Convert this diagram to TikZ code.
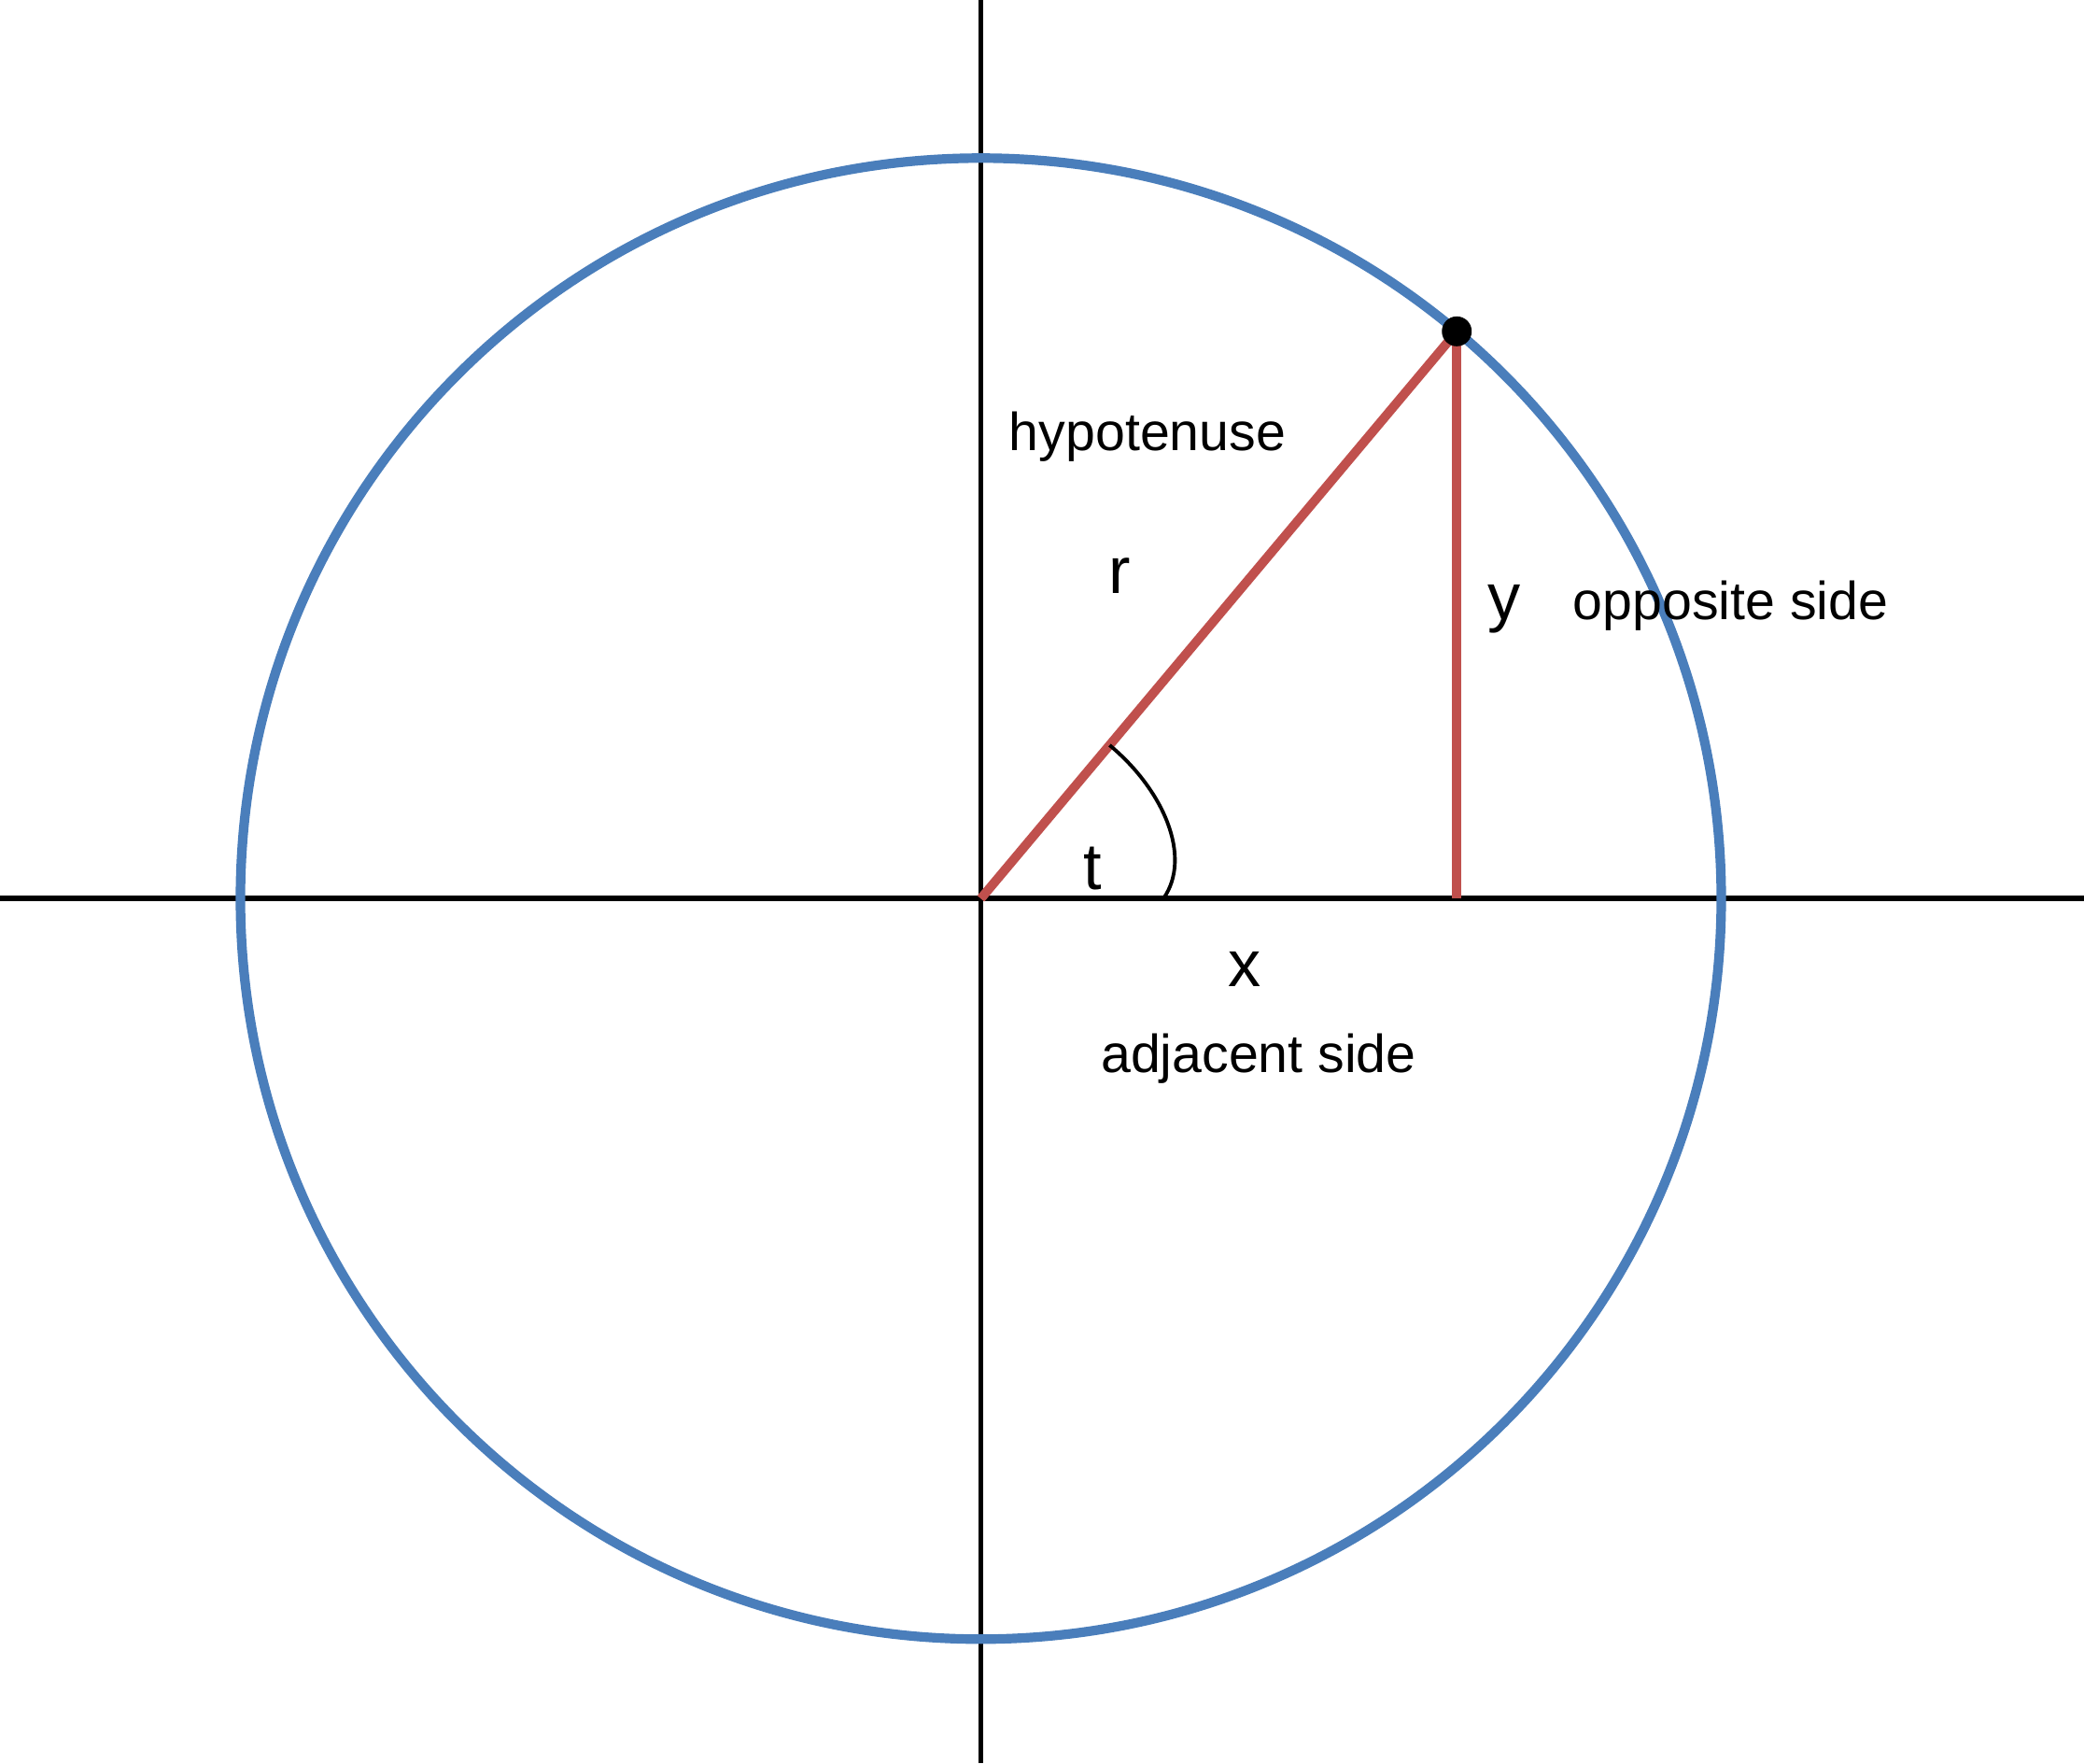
\documentclass[tikz,border=0pt]{standalone}
\usepackage{fontspec}
\setmainfont{Liberation Sans}
\usepackage{tikz}
\usetikzlibrary{calc}
\definecolor{circblue}{HTML}{4A7EBB}
\definecolor{sidered}{HTML}{C0504D}

\begin{document}
\begin{tikzpicture}[
  word/.style={anchor=base,inner sep=0pt,font=\fontsize{16.3}{19}\selectfont},
  letter/.style={anchor=base,inner sep=0pt,font=\fontsize{20}{24}\selectfont},
  side/.style={sidered,line width=2.8pt},
  axis/.style={line width=1.6pt}]
  \useasboundingbox (-10.505,-9.257) rectangle (11.815,9.623);
  % axes
  \coordinate (O) at (0,0);
  \coordinate (xl) at (-10.505,0);
  \coordinate (xr) at (11.815,0);
  \coordinate (yb) at (0,-9.257);
  \coordinate (yt) at (0,9.623);
  \draw[axis] (xl) -- (xr);
  \draw[axis] (yb) -- (yt);
  % circle and triangle
  \draw[circblue,line width=2.9pt] (O) circle (7.93);
  \coordinate (P) at (50:7.93);
  \coordinate (F) at (P |- O);
  \draw[side] (O) -- (P);
  \draw[side] (P) -- (F);
  \node[circle,fill=black,inner sep=0pt,minimum size=0.32cm] (dot) at (P) {};
  % angle t
  \coordinate (a1) at (50:2.145);
  \coordinate (a2) at (1.955,0);
  \draw[line width=1.1pt] (a1) .. controls (1.95,1.17) and (2.27,0.45) .. (a2);
  % labels
  \node[word] (hyp) at (1.785,4.80) {hypotenuse};
  \node[letter] (r) at (1.49,3.27) {r};
  \node[letter] (y) at (5.61,2.99) {y};
  \node[word] (opp) at (8.03,2.99) {opposite side};
  \node[letter] (t) at (1.20,0.10) {t};
  \node[letter] (x) at (2.825,-0.94) {x};
  \node[word] (adj) at (2.975,-1.86) {adjacent side};
\end{tikzpicture}
\end{document}
